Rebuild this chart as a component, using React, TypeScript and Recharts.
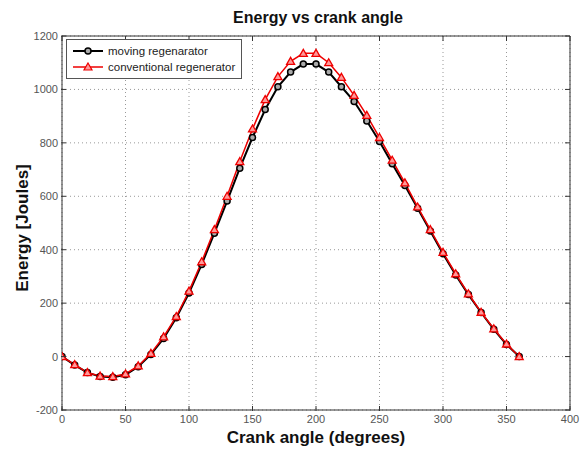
import React from 'react';
import { LineChart, Line, XAxis, YAxis, CartesianGrid, Legend } from 'recharts';

const angles = [0, 10, 20, 30, 40, 50, 60, 70, 80, 90, 100, 110, 120, 130, 140, 150, 160, 170, 180, 190, 200, 210, 220, 230, 240, 250, 260, 270, 280, 290, 300, 310, 320, 330, 340, 350, 360];
const moving = [0, -32, -60, -75, -77, -68, -38, 8, 68, 145, 238, 345, 462, 582, 705, 820, 925, 1010, 1065, 1095, 1095, 1065, 1010, 955, 882, 805, 722, 640, 555, 470, 385, 305, 232, 165, 102, 45, 0];
const conventional = [0, -30, -60, -73, -75, -65, -35, 12, 74, 150, 245, 355, 475, 600, 730, 852, 962, 1048, 1105, 1135, 1135, 1100, 1045, 978, 903, 820, 735, 650, 560, 475, 390, 310, 235, 166, 104, 47, 0];
const xTicks = [0, 50, 100, 150, 200, 250, 300, 350, 400];
const yTicks = [-200, 0, 200, 400, 600, 800, 1000, 1200];

const data = angles.map((a, i) => ({ angle: a, moving: moving[i], conventional: conventional[i] }));

const FONT = '"Liberation Sans", Arial, sans-serif';
const TICK_COLOR = '#555';

const LeftTick = (props: any) => {
  const { x, y, payload } = props;
  return (
    <g>
      <text x={x} y={y} dy={4} textAnchor="end" fontSize={11} fill={TICK_COLOR} fontFamily={FONT}>{payload.value}</text>
      <line x1={x + 3} x2={x + 8} y1={y} y2={y} stroke="#333" strokeWidth={1} />
    </g>
  );
};
const RightTick = (props: any) => {
  const { x, y } = props;
  return <line x1={x} x2={x - 5} y1={y} y2={y} stroke="#333" strokeWidth={1} />;
};
const BottomTick = (props: any) => {
  const { x, y, payload } = props;
  return (
    <g>
      <text x={x} y={y} dy={9} textAnchor="middle" fontSize={11} fill={TICK_COLOR} fontFamily={FONT}>{payload.value}</text>
      <line x1={x} x2={x} y1={y - 3} y2={y - 8} stroke="#333" strokeWidth={1} />
    </g>
  );
};
const TopTick = (props: any) => {
  const { x, y } = props;
  return <line x1={x} x2={x} y1={y} y2={y + 5} stroke="#333" strokeWidth={1} />;
};

const CircleDot = (props: any) => {
  const { cx, cy, index } = props;
  if (cx == null || cy == null) return <g key={index} />;
  return <circle key={index} cx={cx} cy={cy} r={3} fill="#aaa" stroke="#000" strokeWidth={1.5} />;
};
const TriDot = (props: any) => {
  const { cx, cy, index } = props;
  if (cx == null || cy == null) return <g key={index} />;
  const s = 4;
  return (
    <path key={index} d={`M${cx},${cy - s} L${cx + s},${cy + s * 0.75} L${cx - s},${cy + s * 0.75} Z`} fill="#f99" stroke="#e00" strokeWidth={1.3} />
  );
};

const LegendBox = () => (
  <div style={{ border: '1px solid #555', background: '#fff', padding: '3px 6px 3px 4px', fontFamily: FONT, fontSize: 11.5, color: '#222', lineHeight: '16px', textAlign: 'left' }}>
    <div style={{ display: 'flex', alignItems: 'center' }}>
      <svg width={34} height={10} style={{ marginRight: 3 }}>
        <line x1={2} x2={32} y1={5} y2={5} stroke="#000" strokeWidth={2} />
        <circle cx={17} cy={5} r={3} fill="#aaa" stroke="#000" strokeWidth={1.5} />
      </svg>
      <span>moving regenarator</span>
    </div>
    <div style={{ display: 'flex', alignItems: 'center' }}>
      <svg width={34} height={10} style={{ marginRight: 3 }}>
        <line x1={2} x2={32} y1={5} y2={5} stroke="#e00" strokeWidth={1.5} />
        <path d="M17,1 L21,8 L13,8 Z" fill="#f99" stroke="#e00" strokeWidth={1.2} />
      </svg>
      <span>conventional regenerator</span>
    </div>
  </div>
);

export default function App() {
  return (
    <div style={{ position: 'absolute', left: 0, top: 0, width: 581, height: 452, background: '#fff' }}>
      <LineChart width={581} height={452} data={data} margin={{ top: 35, right: 10, bottom: 0, left: 0 }}>
        <CartesianGrid stroke="#999" strokeDasharray="1 3" horizontalValues={yTicks} verticalValues={xTicks} />
        <XAxis dataKey="angle" type="number" domain={[0, 400]} ticks={xTicks} height={42} tickSize={0} tickMargin={4} tickLine={false} axisLine={{ stroke: '#333' }} tick={<BottomTick />} interval={0} allowDataOverflow />
        <XAxis xAxisId="t" orientation="top" dataKey="angle" type="number" domain={[0, 400]} ticks={xTicks} height={1} tickSize={0} tickMargin={0} tickLine={false} axisLine={{ stroke: '#333' }} tick={<TopTick />} interval={0} allowDataOverflow />
        <YAxis type="number" domain={[-200, 1200]} ticks={yTicks} width={62} tickSize={0} tickMargin={4} tickLine={false} axisLine={{ stroke: '#333' }} tick={<LeftTick />} interval={0} allowDataOverflow />
        <YAxis yAxisId="r" orientation="right" type="number" domain={[-200, 1200]} ticks={yTicks} width={1} tickSize={0} tickMargin={0} tickLine={false} axisLine={{ stroke: '#333' }} tick={<RightTick />} interval={0} allowDataOverflow />
        <Line type="linear" dataKey="moving" stroke="#000" strokeWidth={2} dot={<CircleDot />} isAnimationActive={false} />
        <Line type="linear" dataKey="conventional" stroke="#e00" strokeWidth={1.5} dot={<TriDot />} isAnimationActive={false} />
        <Legend layout="horizontal" verticalAlign="middle" align="center" content={<LegendBox />} wrapperStyle={{ position: 'absolute', top: 39, left: 66, width: 'auto', height: 'auto' }} />
        <text x={318} y={23} textAnchor="middle" fontSize={16} fontWeight="bold" fontFamily={FONT} fill="#111">Energy vs crank angle</text>
        <text x={316} y={443} textAnchor="middle" fontSize={17} fontWeight="bold" fontFamily={FONT} fill="#111">Crank angle (degrees)</text>
        <text x={28} y={228} transform="rotate(-90 28 228)" textAnchor="middle" fontSize={17} fontWeight="bold" fontFamily={FONT} fill="#111">Energy [Joules]</text>
      </LineChart>
    </div>
  );
}
